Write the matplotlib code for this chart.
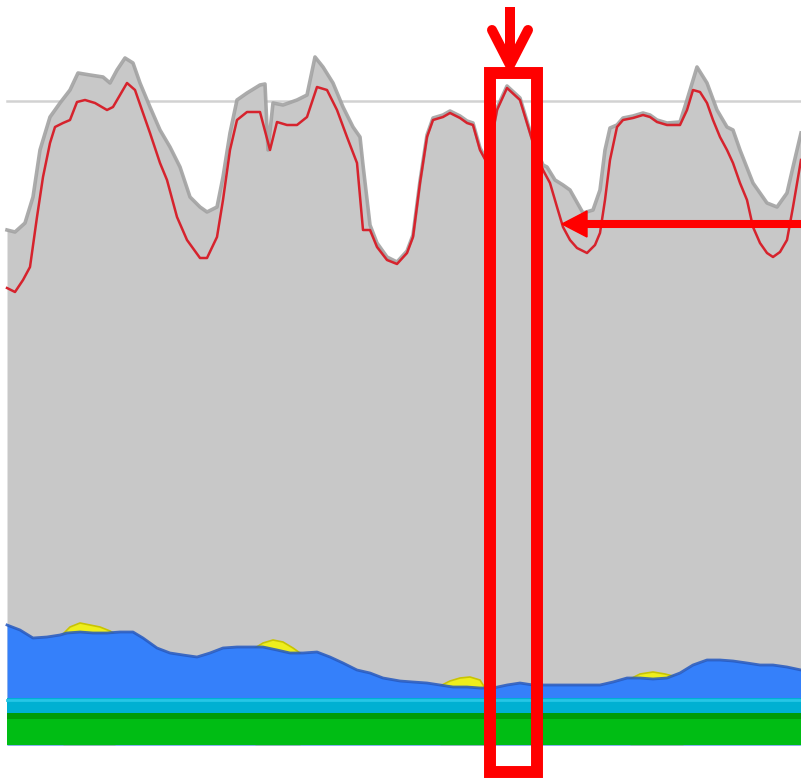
import numpy as np
import matplotlib
matplotlib.use('Agg')
import matplotlib.pyplot as plt
from matplotlib.patches import Rectangle, Polygon

BASE = 745

# total (gray) silhouette
gray_x = [7, 15, 25, 33, 40, 50, 60, 70, 78, 90, 103, 110, 117, 125, 133, 140, 150, 160, 170, 180,
          190, 200, 207, 217, 223, 230, 237, 247, 260, 265, 268, 273, 283, 297, 307, 315, 323, 333,
          343, 353, 360, 363, 370, 377, 387, 397, 407, 413, 420, 427, 433, 443, 450, 460, 467, 473,
          480, 487, 497, 507, 520, 533, 543, 547, 555, 563, 570, 583, 593, 600, 605, 610, 617, 623,
          633, 643, 650, 657, 667, 680, 687, 697, 707, 717, 727, 733, 740, 753, 767, 777, 787, 793, 801]
gray_row = [230, 232, 223, 197, 150, 117, 103, 90, 73, 75, 77, 83, 70, 58, 63, 83, 107, 130, 147, 167,
            197, 207, 212, 207, 177, 133, 100, 93, 85, 84, 150, 103, 105, 100, 95, 57, 67, 83,
            107, 127, 137, 165, 225, 243, 257, 262, 251, 235, 181, 135, 118, 115, 111, 116, 121, 123,
            148, 161, 108, 86, 98, 141, 165, 167, 180, 185, 190, 213, 210, 190, 150, 128, 125, 118,
            116, 113, 115, 120, 123, 122, 100, 67, 83, 110, 127, 130, 150, 183, 203, 207, 193, 167, 133]

# red series line
red_x = [7, 15, 23, 30, 37, 43, 50, 55, 63, 70, 77, 85, 95, 107, 113, 120, 127, 135, 143, 150, 160,
         167, 177, 187, 200, 207, 217, 223, 230, 237, 247, 260, 270, 277, 287, 297, 307, 317, 327,
         337, 347, 357, 363, 370, 377, 387, 397, 407, 413, 420, 427, 433, 443, 450, 460, 467, 473,
         480, 487, 497, 507, 520, 533, 543, 550, 557, 563, 570, 577, 587, 595, 600, 605, 610, 617,
         623, 633, 643, 650, 657, 667, 680, 687, 693, 700, 707, 713, 720, 727, 733, 740, 747, 753,
         760, 767, 773, 780, 787, 793, 801]
red_row = [288, 292, 280, 267, 217, 177, 143, 127, 123, 120, 102, 100, 103, 110, 107, 95, 83, 90, 113, 133, 163,
           180, 217, 240, 258, 258, 237, 200, 150, 120, 112, 112, 150, 122, 125, 125, 117, 87, 90,
           110, 137, 163, 230, 230, 247, 260, 264, 253, 237, 183, 137, 120, 117, 113, 118, 123, 125,
           150, 163, 110, 88, 100, 143, 170, 183, 207, 227, 240, 248, 253, 245, 233, 200, 160, 127,
           120, 118, 115, 117, 122, 125, 125, 110, 90, 92, 103, 120, 137, 150, 163, 183, 200, 227,
           243, 253, 257, 252, 240, 207, 160]

# blue layer top
blue_x = [7, 20, 33, 47, 60, 67, 80, 93, 107, 120, 133, 143, 157, 170, 183, 197, 210, 223, 237, 250,
          263, 277, 290, 303, 317, 330, 343, 357, 370, 383, 400, 413, 427, 440, 453, 467, 480, 493,
          507, 520, 533, 547, 560, 573, 587, 600, 613, 627, 640, 653, 667, 680, 693, 707, 720, 733,
          747, 760, 773, 787, 801]
blue_row = [625, 630, 638, 637, 635, 633, 632, 633, 633, 632, 632, 638, 648, 653, 655, 657, 653, 648, 647, 647,
            647, 650, 653, 653, 652, 657, 663, 670, 673, 678, 681, 682, 683, 685, 687, 687, 688, 688,
            685, 683, 685, 685, 685, 685, 685, 685, 682, 678, 678, 679, 678, 673, 665, 660, 660, 661,
            663, 665, 665, 667, 670]

# small yellow bumps sitting on the blue layer
yellow_bumps = [
    ([63, 70, 80, 90, 100, 110, 115], [634, 627, 623, 625, 627, 631, 634]),
    ([255, 263, 273, 283, 293, 300], [648, 643, 640, 642, 648, 653]),
    ([440, 450, 460, 470, 480, 485], [686, 681, 678, 677, 680, 688]),
    ([630, 640, 653, 665, 677, 683], [679, 674, 672, 674, 677, 676]),
]

cyan_top, green_top = 698, 713
ref_row = 101

h = lambda rows: BASE - np.asarray(rows, dtype=float)

fig = plt.figure(figsize=(8.01, 7.80), dpi=100)
ax = fig.add_axes([0, 0, 1, 1])
ax.set_xlim(0, 801)
ax.set_ylim(-35, 745)
ax.axis('off')

# reference line (hidden behind the gray area)
ax.plot([7, 801], [h(ref_row)] * 2, color='#d2d2d2', lw=1.8, zorder=1)

# gray total area
gx, gy = np.array(gray_x), h(gray_row)
ax.fill_between(gx, 0, gy, color='#c8c8c8', lw=0, zorder=2)
ax.plot(gx, gy, color='#a2a2a2', lw=2.6, alpha=0.9, zorder=2.5)

# red line
ax.plot(red_x, h(red_row), color='#d6232d', lw=1.8, zorder=3)

# yellow bumps
for bx, brow in yellow_bumps:
    ax.fill_between(bx, 0, h(brow), color='#eeee1c', lw=0, zorder=4)
    ax.plot(bx, h(brow), color='#c9c400', lw=1.2, zorder=4)

# blue layer
bx, by = np.array(blue_x), h(blue_row)
ax.fill_between(bx, 0, by, color='#3580fa', lw=0, zorder=5)
ax.plot(bx, by, color='#2458c0', lw=2.0, alpha=0.85, zorder=5.5)

# cyan and green bands
ax.fill_between([7, 801], 0, h(cyan_top), color='#00b0d2', lw=0, zorder=6)
ax.plot([7, 801], [h(cyan_top) - 1.5] * 2, color='#26c6e6', lw=2, zorder=6.5)
ax.fill_between([7, 801], 0, h(green_top), color='#00bd14', lw=0, zorder=7)
ax.fill_between([7, 801], h(green_top) - 6, h(green_top), color='#009c06', lw=0, zorder=7.5)

# red annotations
red = '#ff0000'
ax.add_patch(Rectangle((489.5, h(772)), 47, h(73) - h(772), fill=False,
                       edgecolor=red, lw=8.6, joinstyle='miter', zorder=10))
ax.plot([510, 510], [h(7), h(62)], color=red, lw=7.2, solid_capstyle='butt', zorder=10)
ax.plot([492, 510, 528], [h(30), h(65), h(30)], color=red, lw=7.2,
        solid_capstyle='round', solid_joinstyle='miter', zorder=10)
ax.plot([801, 580], [h(224), h(224)], color=red, lw=5.8, solid_capstyle='butt', zorder=10)
ax.add_patch(Polygon([(562, h(224)), (587, h(211)), (587, h(237))], closed=True,
                     facecolor=red, edgecolor=red, lw=1, zorder=10))

plt.savefig('out.png', dpi=100)
print("plot success!")
